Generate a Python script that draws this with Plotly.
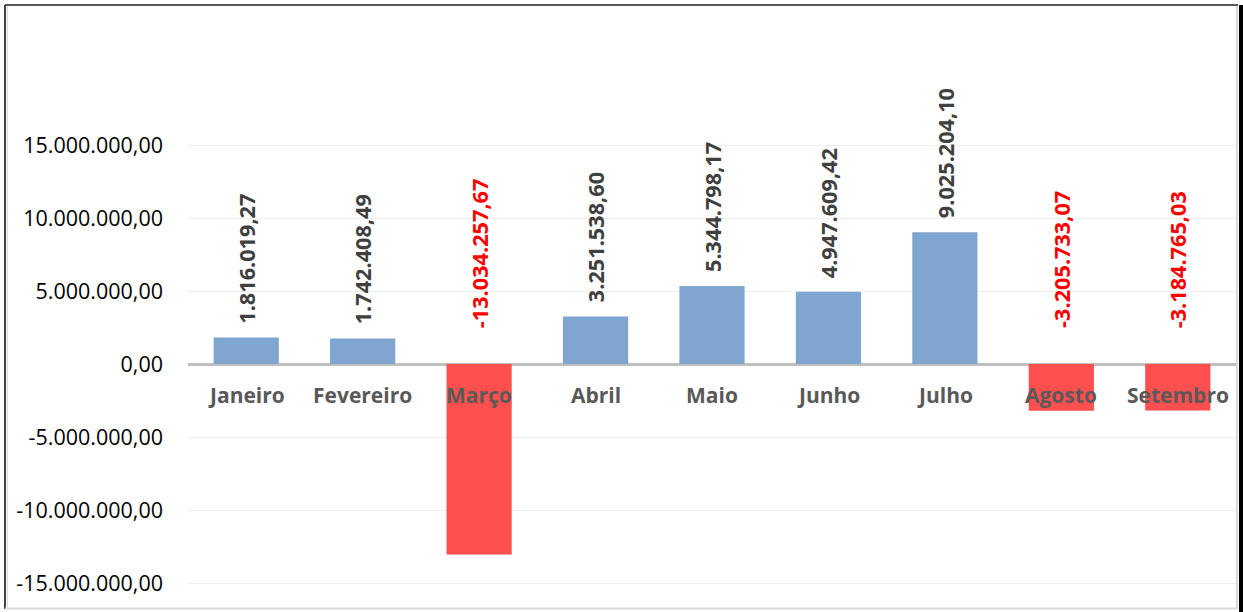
import plotly.graph_objects as go

months = ["Janeiro", "Fevereiro", "Março", "Abril", "Maio", "Junho", "Julho", "Agosto", "Setembro"]
values = [1816019.27, 1742408.49, -13034257.67, 3251538.60, 5344798.17, 4947609.42, 9025204.10, -3205733.07, -3184765.03]
tick_vals = [-15e6, -10e6, -5e6, 0, 5e6, 10e6, 15e6]

BLUE = "#7FA6D0"
RED = "#FF4F4F"
FONT = "Open Sans, Calibri, sans-serif"


def fmt_br(v):
    s = f"{abs(v):,.2f}".replace(",", "X").replace(".", ",").replace("X", ".")
    return ("-" if v < 0 else "") + s


tick_text = [fmt_br(v) for v in tick_vals]
colors = [BLUE if v >= 0 else RED for v in values]

fig = go.Figure()
fig.add_trace(go.Bar(x=months, y=values, marker=dict(color=colors, line=dict(width=0)),
                     width=0.56, hoverinfo="skip"))

annotations = []
for m, v in zip(months, values):
    pos = v >= 0
    annotations.append(dict(
        x=m, y=v if pos else 0, xref="x", yref="y",
        text=f"<b>{fmt_br(v)}</b>", textangle=-90, showarrow=False,
        yanchor="bottom", yshift=12 if pos else 34,
        font=dict(family=FONT, size=21.7, color="#404040" if pos else "#FF0000"),
    ))
    annotations.append(dict(
        x=m, y=0, xref="x", yref="y", text=f"<b>{m}</b>", showarrow=False,
        yanchor="middle", yshift=-31,
        font=dict(family=FONT, size=21, color="#595959"),
    ))

# chart frame (paper coordinates relative to plot area 188..1236 x 72..605)
W, H = 1048.0, 533.0
def px(x):
    return (x - 188) / W
def py(y):
    return (605 - y) / H

frame = [
    dict(type="line", x0=px(5), x1=px(1238), y0=py(5), y1=py(5), line=dict(color="#595959", width=2)),
    dict(type="line", x0=px(5), x1=px(5), y0=py(5), y1=py(609), line=dict(color="#404040", width=2)),
    dict(type="line", x0=px(7.5), x1=px(7.5), y0=py(6), y1=py(608), line=dict(color="#D9D9D9", width=1)),
    dict(type="line", x0=px(1237), x1=px(1237), y0=py(6), y1=py(609), line=dict(color="#D9D9D9", width=2)),
    dict(type="line", x0=px(1241), x1=px(1241), y0=py(5), y1=py(612), line=dict(color="#000000", width=4)),
    dict(type="line", x0=px(5), x1=px(1238), y0=py(608.5), y1=py(608.5), line=dict(color="#D9D9D9", width=2)),
]
for s in frame:
    s.update(xref="paper", yref="paper", layer="above")

fig.update_layout(
    template="none",
    width=1243, height=612,
    margin=dict(l=188, r=7, t=72, b=7, autoexpand=False),
    paper_bgcolor="white", plot_bgcolor="white",
    showlegend=False, bargap=0.44,
    annotations=annotations,
    shapes=frame,
    xaxis=dict(showticklabels=False, showgrid=False, zeroline=False, showline=False, ticks="",
               automargin=False),
    yaxis=dict(range=[-16.5e6, 20e6], tickvals=tick_vals, ticktext=tick_text,
               showgrid=True, gridcolor="#EFEFEF", gridwidth=1,
               zeroline=True, zerolinecolor="#BFBFBF", zerolinewidth=3,
               showline=False, ticks="", ticklabelstandoff=24, automargin=False,
               tickfont=dict(family=FONT, size=21.5, color="#000000")),
)

fig.write_html("out.html", config={"displayModeBar": False},
               post_script="document.body.style.margin='0';document.body.style.overflow='hidden';")
